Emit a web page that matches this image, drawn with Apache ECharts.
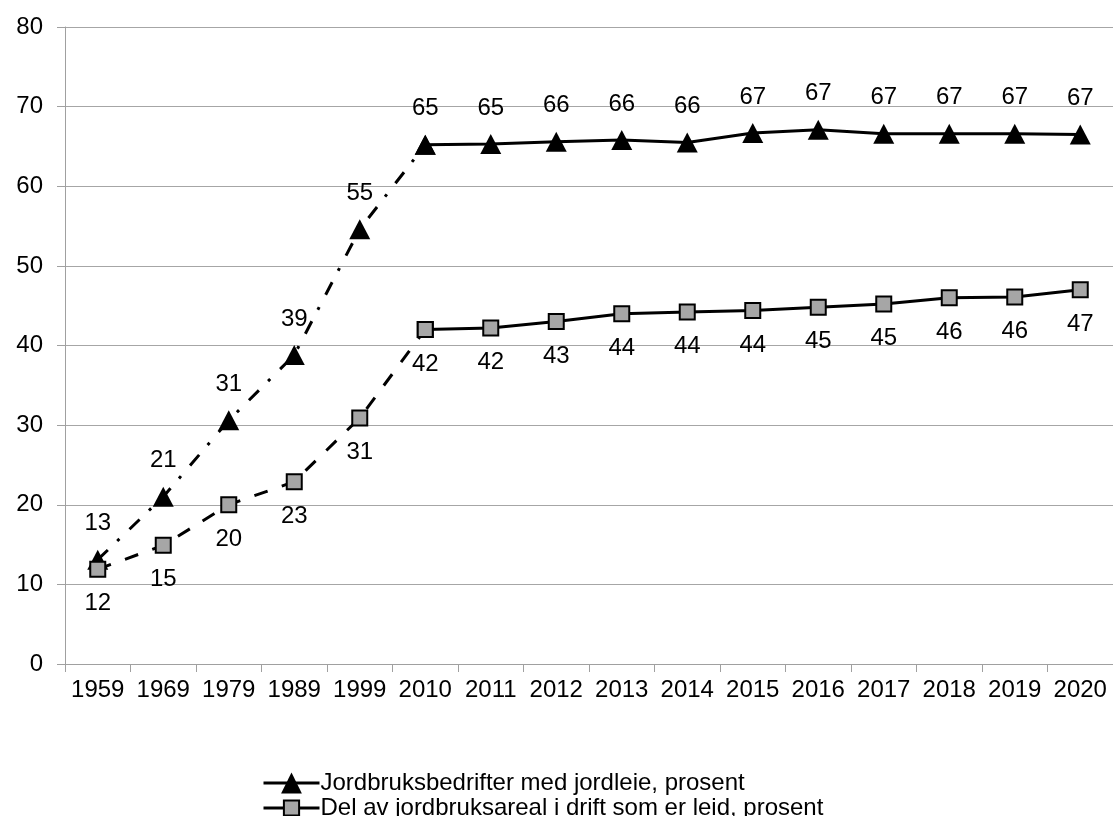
<!DOCTYPE html>
<html>
<head>
<meta charset="utf-8">
<script src="https://cdn.jsdelivr.net/npm/echarts@6/dist/echarts.min.js"></script>
<style>
  html, body { margin: 0; padding: 0; background: #fff; }
  #chart { width: 1113px; height: 816px; }
</style>
</head>
<body>
<div id="chart"></div>
<script>
const categories = ['1959','1969','1979','1989','1999','2010','2011','2012','2013','2014','2015','2016','2017','2018','2019','2020'];
const bedrifter = [13.1, 21.0, 30.6, 38.8, 54.6, 65.2, 65.3, 65.6, 65.8, 65.5, 66.7, 67.1, 66.6, 66.6, 66.6, 66.5];
const areal = [11.9, 14.9, 20.0, 22.9, 30.9, 42.0, 42.2, 43.0, 44.0, 44.2, 44.4, 44.8, 45.2, 46.0, 46.1, 47.0];
const name1 = 'Jordbruksbedrifter med jordleie, prosent';
const name2 = 'Del av jordbruksareal i drift som er leid, prosent';
const yTicks = { min: 0, max: 80, interval: 10 };
const splitIndex = 5; // 2010: dashed before, solid after

function head(arr) { return arr.map((v, i) => i <= splitIndex ? v : null); }
function tail(arr) { return arr.map((v, i) => i >= splitIndex ? v : null); }

const FONT = 'Liberation Sans, Arial, sans-serif';
const fontSize = 24;

const lbl = (pos, dist, skipSplit) => ({
  show: true, position: pos, distance: dist,
  fontFamily: FONT, fontSize: fontSize, color: '#000',
  formatter: p => (skipSplit && p.dataIndex === splitIndex) ? '' : String(Math.round(p.value))
});

const triStyle = { color: '#000', borderColor: '#000', borderWidth: 0 };
const sqStyle = { color: '#a6a6a6', borderColor: '#000', borderWidth: 2 };
const legLine = { color: '#000', width: 3, type: 'solid', opacity: 1 };

const legendBase = {
  orient: 'horizontal',
  left: 257,
  itemWidth: 56,
  textStyle: { fontFamily: FONT, fontSize: fontSize, color: '#000', padding: [0, 0, 0, -4] }
};

const chart = echarts.init(document.getElementById('chart'), null, { renderer: 'canvas' });
chart.setOption({
  animation: false,
  backgroundColor: '#fff',
  grid: { left: 65, top: 27, width: 1050, bottom: 152, containLabel: false },
  xAxis: {
    type: 'category',
    data: categories,
    boundaryGap: true,
    axisLine: { show: true, lineStyle: { color: '#a0a0a0', width: 1 } },
    axisTick: { show: true, length: 8, interval: 0, lineStyle: { color: '#a0a0a0' } },
    axisLabel: { interval: 0, margin: 14, fontFamily: FONT, fontSize: fontSize, color: '#000' },
    splitLine: { show: false }
  },
  yAxis: {
    type: 'value',
    min: yTicks.min, max: yTicks.max, interval: yTicks.interval,
    axisLine: { show: true, lineStyle: { color: '#a0a0a0', width: 1 } },
    axisTick: { show: true, length: 8, lineStyle: { color: '#a0a0a0' } },
    axisLabel: { margin: 22, fontFamily: FONT, fontSize: fontSize, color: '#000' },
    splitLine: { show: true, lineStyle: { color: '#a6a6a6', width: 1 } }
  },
  legend: [
    Object.assign({}, legendBase, { top: 766, itemHeight: 26, data: [{ name: name1, lineStyle: legLine, itemStyle: triStyle }] }),
    Object.assign({}, legendBase, { top: 791, itemHeight: 19, data: [{ name: name2, lineStyle: legLine, itemStyle: sqStyle }] })
  ],
  series: [
    {
      name: name1 + ' (a)', type: 'line', data: head(bedrifter),
      symbol: 'triangle', symbolSize: [21, 20],
      lineStyle: { color: '#000', width: 3, type: [14, 13, 3, 14] },
      itemStyle: triStyle,
      label: lbl('top', 14, true),
      z: 2
    },
    {
      name: name1, type: 'line', data: tail(bedrifter),
      symbol: 'triangle', symbolSize: [21, 20],
      lineStyle: { color: '#000', width: 3, type: 'solid' },
      itemStyle: triStyle,
      label: lbl('top', 14, false),
      z: 3
    },
    {
      name: name2 + ' (a)', type: 'line', data: head(areal),
      symbol: 'rect', symbolSize: 15,
      lineStyle: { color: '#000', width: 3, type: [14, 15] },
      itemStyle: sqStyle,
      label: lbl('bottom', 14, true),
      z: 4
    },
    {
      name: name2, type: 'line', data: tail(areal),
      symbol: 'rect', symbolSize: 15,
      lineStyle: { color: '#000', width: 3, type: 'solid' },
      itemStyle: sqStyle,
      label: lbl('bottom', 14, false),
      z: 5
    }
  ]
});
</script>
</body>
</html>
